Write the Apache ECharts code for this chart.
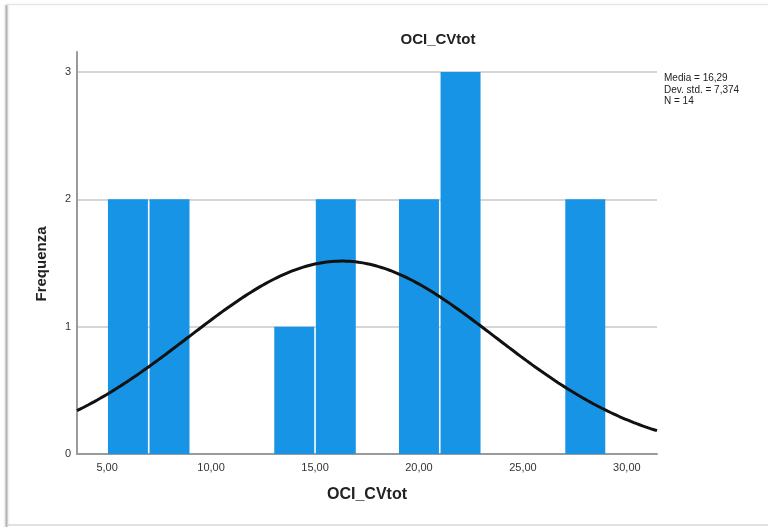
<!DOCTYPE html>
<html>
<head>
<meta charset="utf-8">
<script src="https://cdn.jsdelivr.net/npm/echarts@6/dist/echarts.min.js"></script>
<style>
  html, body { margin: 0; padding: 0; background: #fff; }
  #chart { width: 768px; height: 527px; }
</style>
</head>
<body>
<div id="chart"></div>
<script>
// Histogram of OCI_CVtot: bin edges (width 2) and frequency per bin
const binStarts = [5, 7, 13, 15, 19, 21, 27];
const binWidth = 2;
const frequencies = [2, 2, 1, 2, 2, 3, 2];

// Summary statistics shown beside the plot
const mean = 16.29;
const stdDev = 7.374;
const count = 14;

// Axis tick labels
const xTicks = [5, 10, 15, 20, 25, 30];
const yTicks = [0, 1, 2, 3];

const xMin = 3.55, xMax = 31.45;
const yMax = 3.157;

const fmtComma = (v, d) => v.toFixed(d).replace('.', ',');

// Normal curve scaled to the histogram: N * binWidth * pdf(x)
const curve = [];
for (let i = 0; i <= 200; i++) {
  const x = xMin + (xMax - xMin) * i / 200;
  const z = (x - mean) / stdDev;
  const y = count * binWidth * Math.exp(-0.5 * z * z) / (stdDev * Math.sqrt(2 * Math.PI));
  curve.push([x, y]);
}

const barData = binStarts.map((s, i) => [s, s + binWidth, frequencies[i]]);

const chart = echarts.init(document.getElementById('chart'), null, { renderer: 'canvas' });
const font = '"Liberation Sans", Arial, sans-serif';

chart.setOption({
  animation: false,
  backgroundColor: '#fff',
  grid: { left: 77, right: 111, top: 52, bottom: 73, containLabel: false },
  xAxis: {
    type: 'value',
    min: xMin,
    max: xMax,
    axisLine: { show: true, lineStyle: { color: '#9a9a9a', width: 2 } },
    axisTick: { show: false },
    splitLine: { show: false },
    axisLabel: {
      customValues: xTicks,
      formatter: v => fmtComma(v, 2),
      color: '#333',
      fontSize: 11,
      fontFamily: font,
      margin: 8
    }
  },
  yAxis: {
    type: 'value',
    min: 0,
    max: yMax,
    interval: 1,
    axisLine: { show: true, lineStyle: { color: '#9a9a9a', width: 2 } },
    axisTick: { show: false },
    splitLine: { show: true, showMaxLine: false, lineStyle: { color: '#d6d6d6', width: 2 } },
    axisLabel: {
      customValues: yTicks,
      color: '#333',
      fontSize: 11,
      fontFamily: font,
      margin: 6
    }
  },
  series: [
    {
      type: 'custom',
      data: barData,
      encode: { x: [0, 1], y: 2 },
      z: 2,
      renderItem: (params, api) => {
        const p0 = api.coord([api.value(0), api.value(2)]);
        const p1 = api.coord([api.value(1), 0]);
        return {
          type: 'rect',
          shape: { x: p0[0] + 0.8, y: p0[1], width: p1[0] - p0[0] - 1.6, height: p1[1] - p0[1] },
          style: { fill: '#1894e6' }
        };
      }
    },
    {
      type: 'line',
      data: curve,
      showSymbol: false,
      smooth: false,
      clip: true,
      z: 3,
      lineStyle: { color: '#111', width: 3 }
    }
  ],
  graphic: [
    // window-like frame around the figure
    { type: 'line', shape: { x1: 6.5, y1: 5, x2: 6.5, y2: 527 }, style: { stroke: '#b5b5b5', lineWidth: 2, shadowBlur: 3, shadowColor: 'rgba(0,0,0,0.25)' }, z: 10 },
    { type: 'line', shape: { x1: 7, y1: 4.5, x2: 768, y2: 4.5 }, style: { stroke: '#e6e6e6', lineWidth: 1.5 }, z: 10 },
    { type: 'line', shape: { x1: 7, y1: 525, x2: 768, y2: 525 }, style: { stroke: '#d8d8d8', lineWidth: 1.5 }, z: 10 },
    {
      type: 'text', x: 438, y: 40, z: 10,
      style: { text: 'OCI_CVtot', font: 'bold 15px ' + font, fill: '#222', textAlign: 'center', textVerticalAlign: 'middle' }
    },
    {
      type: 'text', x: 367, y: 495, z: 10,
      style: { text: 'OCI_CVtot', font: 'bold 16px ' + font, fill: '#222', textAlign: 'center', textVerticalAlign: 'middle' }
    },
    {
      type: 'text', x: 42, y: 264, rotation: Math.PI / 2, z: 10,
      style: { text: 'Frequenza', font: 'bold 15px ' + font, fill: '#222', textAlign: 'center', textVerticalAlign: 'middle' }
    },
    {
      type: 'text', x: 664, y: 73, z: 10,
      style: {
        text: 'Media = ' + fmtComma(mean, 2) + '\nDev. std. = ' + fmtComma(stdDev, 3) + '\nN = ' + count,
        font: '10px ' + font, lineHeight: 11.3, fill: '#222'
      }
    }
  ]
});
</script>
</body>
</html>
